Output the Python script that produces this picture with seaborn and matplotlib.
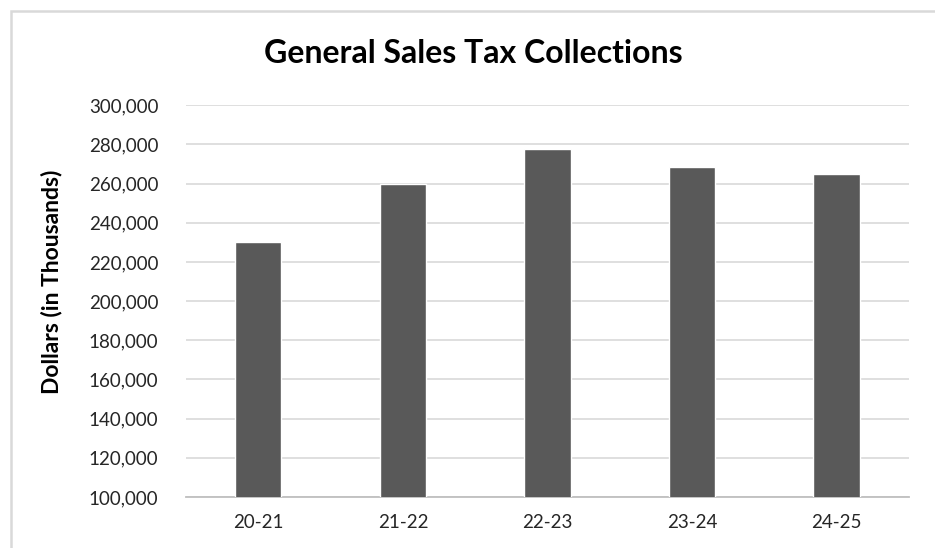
# Python Environment Setting
import seaborn as sns
import pandas as pd
import matplotlib
matplotlib.use("Agg")
import matplotlib.pyplot as plt
import matplotlib.patches as mpatches
from matplotlib.ticker import FuncFormatter

sns.set_theme(style="white")
plt.rcParams['font.family'] = ['Lato', 'DejaVu Sans']

# Data
years = ["20-21", "21-22", "22-23", "23-24", "24-25"]
collections = [230100, 259900, 277600, 268400, 264700]

dataset = pd.DataFrame({"year": years, "collections": collections})

'''plot figure'''
fig = plt.figure(figsize=(9.35, 5.48), dpi=100)
ax = fig.add_axes([0.199, 0.093, 0.773, 0.715])

# light grey frame around the chart (cut off at right / bottom like the screenshot)
frame = mpatches.Rectangle((0.0118, -0.1), 1.2, 1.08, transform=fig.transFigure,
                           facecolor="none", edgecolor="#d9d9d9", linewidth=1.8)
fig.patches.append(frame)

# bars
sns.barplot(data=dataset, x="year", y="collections", color="#595959",
            saturation=1, width=0.32, ax=ax, zorder=3)

# axis settings
ax.set_ylim(100000, 300000)
ax.set_yticks(range(100000, 300001, 20000))
ax.yaxis.set_major_formatter(FuncFormatter(lambda v, p: f"{int(v):,}"))
ax.grid(axis="y", color="#d9d9d9", linewidth=1.2, zorder=0)
ax.grid(axis="x", visible=False)

for side in ["top", "right", "left"]:
    ax.spines[side].set_visible(False)
ax.spines["bottom"].set_color("#bfbfbf")
ax.spines["bottom"].set_linewidth(1.3)

ax.tick_params(axis="both", length=0, labelsize=13.5, colors="#262626")
ax.tick_params(axis="y", pad=20)
ax.tick_params(axis="x", pad=12)

# Labels
ax.set_xlabel("")
ax.set_ylabel("")
fig.text(52 / 935, 1 - 282 / 548, "Dollars (in Thousands)", fontsize=16.5,
         fontweight="bold", color="black", rotation=90, ha="center", va="center")
fig.text(473.5 / 935, 1 - 63 / 548, "General Sales Tax Collections", fontsize=23,
         fontweight="bold", color="black", ha="center", va="baseline")

#save plot
plt.savefig("out.png", dpi=100)
plt.close()
